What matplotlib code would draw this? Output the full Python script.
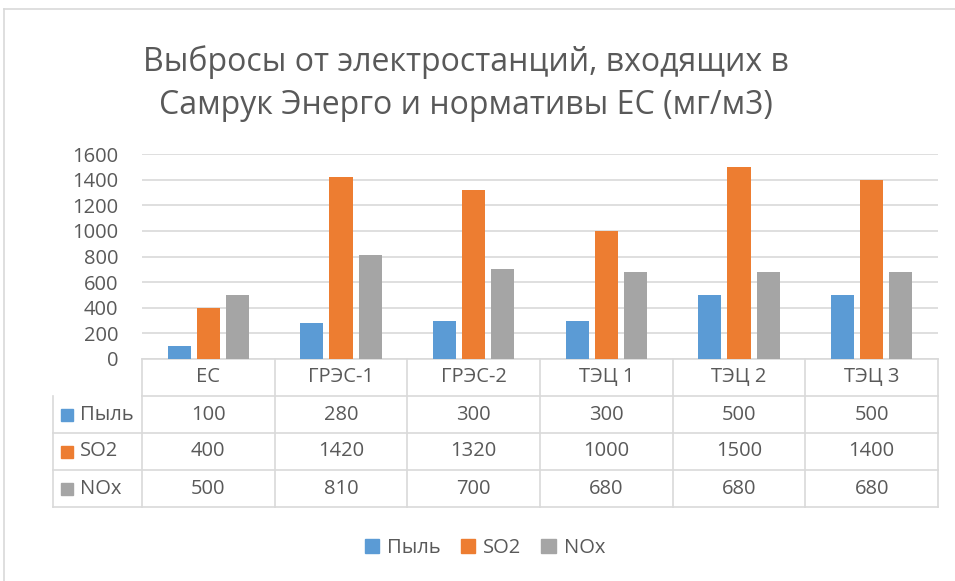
import numpy as np
import matplotlib.pyplot as plt
from matplotlib.lines import Line2D
from matplotlib.patches import Rectangle
import matplotlib.transforms as mtransforms

plt.rcParams['font.family'] = ['Open Sans', 'DejaVu Sans']

# Данные
categories = ['ЕС', 'ГРЭС-1', 'ГРЭС-2', 'ТЭЦ 1', 'ТЭЦ 2', 'ТЭЦ 3']
series_names = ['Пыль', 'SO2', 'NOx']
dust = [100, 280, 300, 300, 500, 500]
so2 = [400, 1420, 1320, 1000, 1500, 1400]
nox = [500, 810, 700, 680, 680, 680]
series_values = [dust, so2, nox]
colors = ['#5b9bd5', '#ed7d31', '#a5a5a5']
yticks = [0, 200, 400, 600, 800, 1000, 1200, 1400, 1600]

W, H = 955, 581
fig = plt.figure(figsize=(W / 100, H / 100), dpi=100)

txt_color = '#595959'
line_color = '#d9d9d9'
fs = 14.5

# рамка диаграммы
fig.add_artist(Line2D([4 / W, 1], [1 - 9 / H, 1 - 9 / H], color=line_color, lw=1.2))
fig.add_artist(Line2D([4 / W, 4 / W], [0, 1 - 9 / H], color=line_color, lw=1.2))

ax = fig.add_axes([142 / W, (H - 359) / H, (938 - 142) / W, (359 - 154) / H])
x = np.arange(len(categories))
bw = 0.175
step = 0.22
for i, (vals, col, name) in enumerate(zip(series_values, colors, series_names)):
    ax.bar(x + (i - 1) * step, vals, width=bw, color=col, label=name, zorder=3)

ax.set_xlim(-0.5, len(categories) - 0.5)
ax.set_ylim(0, 1600)
ax.set_yticks(yticks)
ax.tick_params(axis='y', length=0, pad=17, labelsize=fs, labelcolor=txt_color)
ax.set_xticks([])
ax.grid(axis='y', color=line_color, lw=1.2, zorder=0)
for s in ['top', 'right', 'left']:
    ax.spines[s].set_visible(False)
ax.spines['bottom'].set_color(line_color)
ax.spines['bottom'].set_linewidth(1.2)

# таблица данных
trans = mtransforms.blended_transform_factory(ax.transData, ax.transAxes)
ph = 359 - 154
rh = 37 / ph
left_x = -0.5 - 89 / 133
n = len(categories)
# вертикальные линии
for k in range(n + 1):
    ax.add_line(Line2D([k - 0.5, k - 0.5], [0, -4 * rh], transform=trans,
                       color=line_color, lw=1.2, clip_on=False))
ax.add_line(Line2D([left_x, left_x], [-rh, -4 * rh], transform=trans,
                   color=line_color, lw=1.2, clip_on=False))
# горизонтальные линии
ax.add_line(Line2D([-0.5, n - 0.5], [-rh, -rh], transform=trans,
                   color=line_color, lw=1.2, clip_on=False))
for r in range(2, 5):
    ax.add_line(Line2D([left_x, n - 0.5], [-r * rh, -r * rh], transform=trans,
                       color=line_color, lw=1.2, clip_on=False))
# заголовки столбцов
for k, c in enumerate(categories):
    ax.text(k, -0.5 * rh, c, transform=trans, ha='center', va='center',
            fontsize=fs, color=txt_color)
# строки
for r, (vals, col, name) in enumerate(zip(series_values, colors, series_names)):
    yc = -(r + 1.5) * rh
    sq = 12 / 133
    ax.add_patch(Rectangle((left_x + 8 / 133, yc - 6 / ph), sq, 12 / ph,
                           transform=trans, color=col, clip_on=False))
    ax.text(left_x + 27 / 133, yc, name, transform=trans, ha='left', va='center',
            fontsize=fs, color=txt_color)
    for k, v in enumerate(vals):
        ax.text(k, yc, str(v), transform=trans, ha='center', va='center',
                fontsize=fs, color=txt_color)

# заголовок
fig.text(466 / W, 1 - 62 / H, 'Выбросы от электростанций, входящих в',
         ha='center', va='center', fontsize=23, color=txt_color)
fig.text(466 / W, 1 - 105 / H, 'Самрук Энерго и нормативы ЕС (мг/м3)',
         ha='center', va='center', fontsize=23, color=txt_color)

# легенда
handles = [Rectangle((0, 0), 1, 1, color=c) for c in colors]
fig.legend(handles, series_names, loc='center', bbox_to_anchor=(485 / W, 1 - 548 / H),
           ncol=3, frameon=False, fontsize=fs, labelcolor=txt_color,
           handlelength=0.7, handleheight=0.7, handletextpad=0.4, columnspacing=1.0)

fig.savefig('out.png', dpi=100)
